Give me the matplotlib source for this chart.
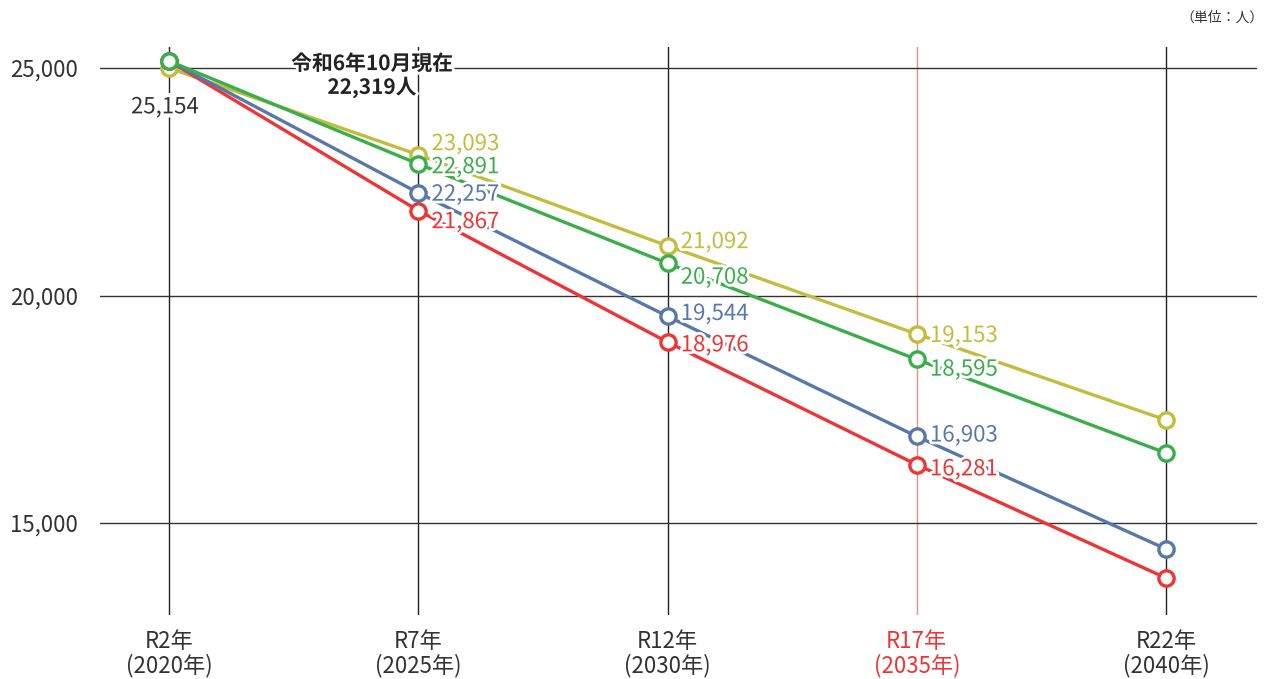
import matplotlib
matplotlib.use("Agg")
import matplotlib.pyplot as plt
import matplotlib.patheffects as pe

plt.rcParams['font.family'] = ['Noto Sans CJK JP', 'DejaVu Sans']

categories = ["R2年\n(2020年)", "R7年\n(2025年)", "R12年\n(2030年)", "R17年\n(2035年)", "R22年\n(2040年)"]
series_yellow = [25000, 23093, 21092, 19153, 17264]
series_green = [25154, 22891, 20708, 18595, 16538]
series_blue = [25154, 22257, 19544, 16903, 14429]
series_red = [25154, 21867, 18976, 16281, 13791]
yticks = [15000, 20000, 25000]
ytick_labels = ["15,000", "20,000", "25,000"]

colors = {"yellow": "#c2bd3c", "green": "#3aae4a", "blue": "#5878aa", "red": "#ee3535"}

fig = plt.figure(figsize=(12.66, 6.79), dpi=100)
ax = fig.add_axes([100/1266, 1-615/679, (1257-100)/1266, (615-47)/679])
x = list(range(len(categories)))
ax.set_xlim(-0.277, 4.365)
ax.set_ylim(12978, 25462)

for s in ax.spines.values():
    s.set_visible(False)

for i in x:
    ax.axvline(i, color="#f08a8a" if i == 3 else "#222222", lw=1.0, zorder=1)
for yv in yticks:
    ax.axhline(yv, color="#333333", lw=1.0, zorder=1)

ax.set_yticks(yticks)
ax.set_yticklabels(ytick_labels, fontsize=16, color="#333333")
ax.tick_params(axis="y", length=0, pad=16)
ax.set_xticks(x)
ax.set_xticklabels(categories, fontsize=16, color="#333333", linespacing=1.05)
ax.tick_params(axis="x", length=0, pad=11)
ax.get_xticklabels()[3].set_color("#ee3535")

for name, vals in [("yellow", series_yellow), ("red", series_red), ("blue", series_blue), ("green", series_green)]:
    ax.plot(x, vals, color=colors[name], lw=2.4, marker="o", ms=11, mfc="white",
            mec=colors[name], mew=2.4, zorder=3)

halo = [pe.withStroke(linewidth=4, foreground="white")]
offsets = {
    "yellow": [None, 8, 3, -1, None],
    "green": [None, -2, -10, -7, None],
    "blue": [None, -1, 2, 1, None],
    "red": [None, -8, -2, -3, None],
}
data = {"yellow": series_yellow, "green": series_green, "blue": series_blue, "red": series_red}
for name, vals in data.items():
    for i, v in enumerate(vals):
        dy = offsets[name][i]
        if dy is None:
            continue
        ax.annotate(f"{v:,}", (i, v), xytext=(9.5, dy), textcoords="offset points",
                    ha="left", va="center", fontsize=16, color=colors[name],
                    path_effects=halo, zorder=5)

ax.annotate("25,154", (0, series_green[0]), xytext=(-3, -33), textcoords="offset points",
            ha="center", va="center", fontsize=16, color="#333333",
            path_effects=[pe.withStroke(linewidth=6, foreground="white")], zorder=5)
ax.text(0.815, 24830, "令和6年10月現在\n22,319人", ha="center", va="center", fontsize=15,
        fontweight="bold", color="#222222", linespacing=1.15, path_effects=halo, zorder=5)
fig.text(1264/1266, 1-18/679, "（単位：人）", ha="right", va="center", fontsize=10, color="#333333")

fig.savefig("out.png", dpi=100)
